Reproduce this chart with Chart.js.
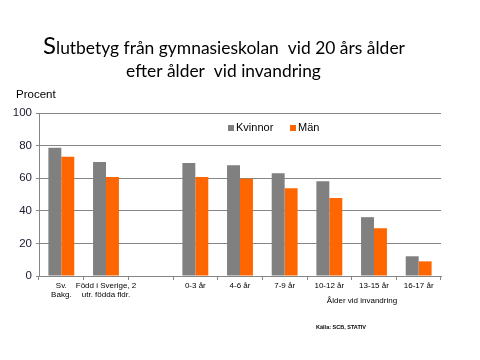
<!DOCTYPE html>
<html>
<head>
<meta charset="utf-8">
<script src="https://cdn.jsdelivr.net/npm/chart.js@4"></script>
<style>
html,body{margin:0;padding:0;background:#fff;}
#wrap{width:480px;height:360px;position:relative;}
</style>
</head>
<body>
<div id="wrap"><canvas id="c" width="480" height="360"></canvas></div>
<script>
const categories = [["Sv.","Bakg."],["Född i Sverige, 2","utr. födda fldr."],"","0-3 år","4-6 år","7-9 år","10-12 år","13-15 år","16-17 år"];
const kvinnor = [78.7, 69.9, null, 69.3, 68.0, 63.1, 58.2, 36.1, 12.1];
const man = [73.1, 60.7, null, 60.7, 59.6, 53.9, 47.8, 29.3, 9.0];
const seriesLabels = ["Kvinnor", "Män"];
const yTicks = [0, 20, 40, 60, 80, 100];
const titleFirst = "S";
const titleRest = "lutbetyg från gymnasieskolan  vid 20 års ålder";
const titleLine2 = "efter ålder  vid invandring";
const yLabel = "Procent";
const groupLabel = "Ålder vid invandring";
const sourceNote = "Källa: SCB, STATIV";

const GRID = "#868686";
const GRAY = "#808080";
const ORANGE = "#FF6600";

const textPlugin = {
  id: "texts",
  afterDraw(chart) {
    const ctx = chart.ctx;
    const ca = chart.chartArea;
    ctx.save();
    // Title
    ctx.fillStyle = "#000";
    ctx.textBaseline = "alphabetic";
    ctx.textAlign = "left";
    ctx.font = "24px Lato";
    ctx.fillText(titleFirst, 43, 54);
    const sW = ctx.measureText(titleFirst).width;
    ctx.font = "18px Lato";
    let w = ctx.measureText(titleRest).width;
    let fs = 18 * (405 - 43 - sW) / w;
    ctx.font = fs.toFixed(2) + "px Lato";
    ctx.fillText(titleRest, 43 + sW, 54);
    ctx.font = "18px Lato";
    w = ctx.measureText(titleLine2).width;
    fs = 18 * 195 / w;
    ctx.font = fs.toFixed(2) + "px Lato";
    ctx.textAlign = "center";
    ctx.fillText(titleLine2, 223.5, 77);
    // Procent
    ctx.textAlign = "left";
    ctx.textBaseline = "middle";
    ctx.font = "11.5px 'Liberation Sans'";
    ctx.fillStyle = "#000";
    ctx.fillText(yLabel, 16, 95);
    // Legend
    const ds = chart.data.datasets;
    let lx = ca.left + 189;
    const ly = ca.top + 15;
    ctx.font = "11px 'Liberation Sans'";
    ds.forEach((d, i) => {
      ctx.fillStyle = d.backgroundColor;
      ctx.fillRect(lx, ly - 3, 6, 6);
      ctx.fillStyle = "#000";
      ctx.fillText(d.label, lx + 8, ly);
      lx += 62;
    });
    // Group label
    ctx.textAlign = "center";
    ctx.font = "8px 'Liberation Sans'";
    ctx.fillText(groupLabel, 362, 301);
    // Source
    ctx.font = "bold 5.5px 'Liberation Sans'";
    ctx.fillText(sourceNote, 341, 327);
    ctx.restore();
  }
};

new Chart(document.getElementById("c"), {
  type: "bar",
  data: {
    labels: categories,
    datasets: [
      { label: seriesLabels[0], data: kvinnor, backgroundColor: GRAY },
      { label: seriesLabels[1], data: man, backgroundColor: ORANGE }
    ]
  },
  options: {
    responsive: false,
    animation: false,
    devicePixelRatio: 1,
    layout: { padding: { top: 113, right: 39, left: 0, bottom: 0 } },
    datasets: { bar: { categoryPercentage: 0.58, barPercentage: 1.0 } },
    plugins: { legend: { display: false }, title: { display: false }, tooltip: { enabled: false } },
    scales: {
      x: {
        afterFit(s) { s.height = 84; },
        grid: { offset: true, drawOnChartArea: false, color: GRID, tickLength: 4, lineWidth: 1 },
        border: { color: GRID, width: 1 },
        ticks: { color: "#000", font: { family: "'Liberation Sans'", size: 8, lineHeight: 1.15 }, padding: 1, maxRotation: 0, autoSkip: false }
      },
      y: {
        min: 0, max: 100,
        afterFit(s) { s.width = 39; },
        afterBuildTicks(s) { s.ticks = yTicks.map(v => ({ value: v })); },
        grid: { color: GRID, tickLength: 3, lineWidth: 1 },
        border: { color: GRID, width: 1 },
        ticks: { color: "#1a1a33", font: { family: "'Liberation Sans'", size: 11.5 }, padding: 4 }
      }
    }
  },
  plugins: [textPlugin]
});
</script>
</body>
</html>
